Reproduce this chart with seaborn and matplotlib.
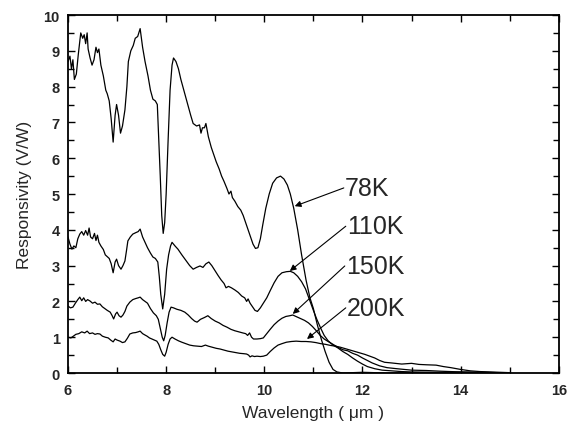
import matplotlib
matplotlib.use("Agg")
import matplotlib.pyplot as plt
import numpy as np
import pandas as pd
import seaborn as sns
from matplotlib.ticker import MultipleLocator

# Responsivity spectra, wavelength in um, responsivity in V/W
wl_78 = [6.00, 6.04, 6.07, 6.10, 6.13, 6.17, 6.21, 6.26, 6.30, 6.33, 6.36, 6.39, 6.41, 6.45,
         6.49, 6.53, 6.57, 6.60, 6.63, 6.67, 6.72, 6.77, 6.80, 6.84, 6.88, 6.92, 6.96, 6.99,
         7.03, 7.07, 7.11, 7.16, 7.20, 7.23, 7.28, 7.33, 7.37, 7.42, 7.47, 7.52, 7.57, 7.63,
         7.68, 7.73, 7.78, 7.82, 7.85, 7.88, 7.91, 7.94, 7.97, 8.00, 8.04, 8.08, 8.12, 8.15,
         8.20, 8.25, 8.30, 8.35, 8.42, 8.50, 8.55, 8.62, 8.68, 8.71, 8.74, 8.78, 8.81, 8.86,
         8.92, 8.97, 9.02, 9.08, 9.13, 9.18, 9.24, 9.28, 9.32, 9.35, 9.40, 9.46, 9.52, 9.57,
         9.62, 9.67, 9.72, 9.77, 9.82, 9.87, 9.92, 9.97, 10.03, 10.10, 10.17, 10.25, 10.33,
         10.40, 10.47, 10.53, 10.60, 10.68, 10.76, 10.85, 10.93, 11.00, 11.08, 11.16, 11.24,
         11.32, 11.40, 11.48, 11.60, 12.00, 12.50, 13.00, 13.50, 14.00, 14.50, 15.00]
r_78 = [8.70, 8.85, 8.50, 8.75, 8.20, 8.35, 8.90, 9.50, 9.35, 9.45, 9.20, 9.50, 9.05, 8.80,
        8.60, 8.75, 9.10, 8.95, 9.05, 8.60, 8.30, 7.90, 7.80, 7.60, 7.10, 6.45, 7.20, 7.50,
        7.20, 6.70, 6.90, 7.35, 8.00, 8.70, 9.00, 9.15, 9.35, 9.40, 9.62, 9.10, 8.70, 8.30,
        7.90, 7.65, 7.60, 7.50, 6.50, 5.50, 4.40, 3.90, 4.20, 5.00, 6.50, 7.90, 8.60, 8.80,
        8.70, 8.50, 8.20, 7.95, 7.60, 7.20, 6.97, 6.90, 6.93, 6.70, 6.85, 6.85, 6.97, 6.60,
        6.30, 6.10, 5.90, 5.70, 5.50, 5.35, 5.15, 5.00, 5.08, 4.90, 4.80, 4.65, 4.55, 4.40,
        4.20, 4.00, 3.80, 3.60, 3.48, 3.50, 3.75, 4.15, 4.60, 5.00, 5.30, 5.45, 5.50,
        5.42, 5.25, 5.00, 4.60, 4.00, 3.30, 2.60, 2.10, 1.80, 1.35, 0.95, 0.60,
        0.30, 0.10, 0.03, 0.00, 0.02, 0.00, 0.01, 0.00, 0.02, 0.00, 0.00]

wl_110 = [6.00, 6.04, 6.08, 6.12, 6.16, 6.20, 6.24, 6.28, 6.32, 6.36, 6.40, 6.43, 6.46, 6.50,
          6.54, 6.57, 6.60, 6.63, 6.67, 6.72, 6.76, 6.80, 6.84, 6.88, 6.92, 6.96, 6.99, 7.03,
          7.08, 7.12, 7.16, 7.19, 7.22, 7.27, 7.32, 7.38, 7.43, 7.47, 7.52, 7.57, 7.62, 7.68,
          7.73, 7.78, 7.83, 7.86, 7.89, 7.93, 7.97, 8.01, 8.05, 8.09, 8.12, 8.18, 8.24, 8.32,
          8.40, 8.48, 8.55, 8.62, 8.69, 8.75, 8.81, 8.87, 8.93, 9.00, 9.06, 9.12, 9.18, 9.22,
          9.27, 9.33, 9.40, 9.47, 9.54, 9.60, 9.64, 9.67, 9.71, 9.76, 9.81, 9.86, 9.92, 9.98,
          10.05, 10.12, 10.20, 10.28, 10.36, 10.45, 10.53, 10.60, 10.68, 10.76, 10.84, 10.92,
          11.00, 11.07, 11.15, 11.22, 11.30, 11.40, 11.50, 11.60, 11.70, 11.80, 11.90, 12.00,
          12.10, 12.25, 12.40, 12.60, 12.80, 13.00, 13.50, 14.00, 14.50, 15.00]
r_110 = [3.80, 3.60, 3.46, 3.55, 3.50, 3.75, 3.88, 3.95, 3.85, 3.98, 3.85, 4.05, 3.80, 3.75,
         3.90, 3.70, 3.85, 3.65, 3.55, 3.45, 3.30, 3.25, 3.20, 3.05, 2.80, 3.10, 3.18, 3.00,
         2.90, 3.00, 3.13, 3.40, 3.69, 3.80, 3.88, 3.92, 3.95, 4.02, 3.80, 3.65, 3.50, 3.35,
         3.24, 3.20, 3.10, 2.70, 2.20, 1.79, 2.20, 2.90, 3.30, 3.55, 3.65, 3.55, 3.46, 3.30,
         3.15, 3.00, 2.90, 2.95, 2.99, 2.95, 3.05, 3.10, 3.00, 2.85, 2.72, 2.60, 2.50, 2.38,
         2.42, 2.38, 2.32, 2.25, 2.15, 2.10, 2.00, 2.07, 1.95, 1.85, 1.75, 1.72, 1.82, 1.95,
         2.10, 2.30, 2.52, 2.70, 2.80, 2.83, 2.84, 2.80, 2.70, 2.55, 2.35, 2.05,
         1.75, 1.50, 1.25, 1.05, 0.90, 0.78, 0.70, 0.60, 0.52, 0.42, 0.33, 0.25,
         0.18, 0.12, 0.08, 0.06, 0.04, 0.03, 0.02, 0.02, 0.01, 0.00]

wl_150 = [6.00, 6.05, 6.10, 6.15, 6.20, 6.24, 6.28, 6.32, 6.36, 6.40, 6.45, 6.50, 6.55, 6.60,
          6.65, 6.70, 6.75, 6.80, 6.86, 6.90, 6.93, 6.97, 7.00, 7.04, 7.08, 7.12, 7.16, 7.20,
          7.26, 7.32, 7.38, 7.43, 7.47, 7.52, 7.57, 7.62, 7.68, 7.74, 7.80, 7.84, 7.88, 7.92,
          7.95, 7.98, 8.02, 8.06, 8.10, 8.15, 8.22, 8.30, 8.38, 8.45, 8.52, 8.58, 8.63, 8.70,
          8.78, 8.85, 8.92, 9.00, 9.08, 9.16, 9.24, 9.32, 9.40, 9.48, 9.56, 9.62, 9.66, 9.70,
          9.74, 9.78, 9.85, 9.92, 9.98, 10.05, 10.12, 10.20, 10.28, 10.36, 10.44, 10.52, 10.58,
          10.66, 10.74, 10.82, 10.90, 10.98, 11.06, 11.14, 11.22, 11.30, 11.40, 11.50, 11.60,
          11.70, 11.80, 11.90, 12.00, 12.10, 12.20, 12.35, 12.50, 12.70, 13.00, 13.30, 13.60,
          14.00, 14.50, 15.00]
r_150 = [1.87, 1.82, 1.84, 1.95, 2.05, 2.12, 2.02, 2.10, 2.00, 2.05, 2.01, 1.95, 1.98, 1.92,
         1.93, 1.85, 1.80, 1.75, 1.70, 1.60, 1.51, 1.65, 1.70, 1.60, 1.56, 1.62, 1.72, 1.87,
         1.98, 2.05, 2.08, 2.10, 2.12, 2.05, 2.00, 1.95, 1.80, 1.68, 1.60, 1.50, 1.25, 1.00,
         0.90, 1.05, 1.40, 1.70, 1.84, 1.82, 1.78, 1.75, 1.70, 1.62, 1.52, 1.45, 1.42, 1.50,
         1.55, 1.60, 1.52, 1.45, 1.40, 1.33, 1.28, 1.22, 1.18, 1.15, 1.12, 1.10, 1.05, 1.12,
         1.00, 0.95, 0.95, 0.96, 0.98, 1.10, 1.22, 1.35, 1.45, 1.53, 1.58, 1.60, 1.62,
         1.57, 1.52, 1.47, 1.40, 1.30, 1.18, 1.05, 0.95, 0.88, 0.80, 0.72, 0.65,
         0.62, 0.55, 0.50, 0.42, 0.35, 0.28, 0.20, 0.15, 0.12, 0.08, 0.07, 0.05,
         0.03, 0.02, 0.00]

wl_200 = [6.00, 6.06, 6.10, 6.16, 6.22, 6.28, 6.34, 6.39, 6.44, 6.50, 6.55, 6.60, 6.65, 6.70,
          6.76, 6.82, 6.87, 6.92, 6.96, 7.00, 7.06, 7.11, 7.16, 7.21, 7.26, 7.32, 7.38, 7.43,
          7.47, 7.52, 7.57, 7.61, 7.66, 7.71, 7.76, 7.81, 7.85, 7.89, 7.93, 7.97, 8.00, 8.04,
          8.08, 8.12, 8.18, 8.25, 8.32, 8.40, 8.48, 8.56, 8.64, 8.72, 8.80, 8.86, 8.94, 9.02,
          9.10, 9.18, 9.26, 9.34, 9.42, 9.50, 9.58, 9.64, 9.68, 9.71, 9.75, 9.80, 9.85, 9.92,
          9.98, 10.05, 10.12, 10.20, 10.28, 10.36, 10.45, 10.55, 10.65, 10.75, 10.85, 10.95,
          11.05, 11.15, 11.25, 11.35, 11.45, 11.55, 11.65, 11.75, 11.85, 11.95, 12.05, 12.15,
          12.25, 12.35, 12.45, 12.60, 12.80, 13.00, 13.15, 13.30, 13.50, 13.65, 13.80, 14.00,
          14.20, 14.40, 14.60, 15.00]
r_200 = [1.00, 0.98, 1.02, 1.08, 1.10, 1.15, 1.12, 1.17, 1.10, 1.12, 1.08, 1.10, 1.09, 1.03,
         1.00, 0.98, 0.92, 0.87, 0.95, 0.92, 0.89, 0.85, 0.87, 0.97, 1.09, 1.12, 1.13, 1.15,
         1.17, 1.10, 1.06, 1.03, 0.98, 0.95, 0.92, 0.89, 0.80, 0.65, 0.52, 0.47, 0.58, 0.80,
         0.95, 1.00, 0.95, 0.90, 0.86, 0.82, 0.78, 0.76, 0.75, 0.74, 0.78, 0.75, 0.72, 0.69,
         0.67, 0.64, 0.61, 0.59, 0.57, 0.55, 0.54, 0.53, 0.50, 0.45, 0.48, 0.46, 0.47, 0.46,
         0.47, 0.50, 0.60, 0.70, 0.78, 0.82, 0.86, 0.88, 0.89, 0.88, 0.88, 0.87,
         0.85, 0.82, 0.80, 0.77, 0.75, 0.72, 0.68, 0.64, 0.60, 0.56, 0.52, 0.47,
         0.42, 0.35, 0.30, 0.28, 0.25, 0.27, 0.24, 0.23, 0.22, 0.18, 0.15, 0.10,
         0.06, 0.04, 0.03, 0.01]

labels = ["78K", "110K", "150K", "200K"]
# label anchor (text left/centre) and arrow head, in data units
label_x = [11.62, 11.66, 11.64, 11.66]
label_y = [5.17, 4.10, 2.99, 1.82]
head_x = [10.62, 10.52, 10.58, 10.87]
head_y = [4.66, 2.85, 1.65, 0.95]

sns.set_style("ticks")
plt.rcParams["font.family"] = ["Liberation Sans", "DejaVu Sans"]
plt.rcParams["xtick.direction"] = "in"
plt.rcParams["ytick.direction"] = "in"

fig, ax = plt.subplots(figsize=(5.69, 4.27), dpi=100)
fig.subplots_adjust(left=0.1195, right=0.982, top=0.9625, bottom=0.1241)

curves = [(wl_78, r_78), (wl_110, r_110), (wl_150, r_150), (wl_200, r_200)]
for (wl, r), name in zip(curves, labels):
    df = pd.DataFrame({"wl": wl, "r": r})
    sns.lineplot(data=df, x="wl", y="r", ax=ax, color="black", linewidth=0.9,
                 estimator=None, sort=False, legend=False)

for name, tx, ty, hx, hy in zip(labels, label_x, label_y, head_x, head_y):
    ax.annotate("", xy=(hx, hy), xytext=(tx, ty),
                arrowprops=dict(arrowstyle="-|>", color="black", lw=0.8,
                                mutation_scale=9, shrinkA=0, shrinkB=0))
    ax.text(tx + 0.02, ty, name, fontsize=18, va="center", ha="left")

ax.set_xlim(6, 16)
ax.set_ylim(0, 10)
ax.xaxis.set_major_locator(MultipleLocator(2))
ax.xaxis.set_minor_locator(MultipleLocator(1))
ax.yaxis.set_major_locator(MultipleLocator(1))
ax.yaxis.set_minor_locator(MultipleLocator(0.5))
ax.tick_params(which="both", top=True, right=True, width=1.0, color="black")
ax.tick_params(which="major", length=5, labelsize=10.5)
ax.tick_params(axis="x", which="major", pad=7)
ax.tick_params(axis="y", which="major", pad=6)
ax.tick_params(which="minor", length=4)
for lab in ax.get_xticklabels() + ax.get_yticklabels():
    lab.set_fontweight("bold")
for sp in ax.spines.values():
    sp.set_linewidth(1.3)
    sp.set_color("black")

ax.set_xlabel("Wavelength ( \u03bcm )", fontsize=12.5, labelpad=6)
ax.set_ylabel("Responsivity (V/W)", fontsize=12.5, labelpad=8)

fig.savefig("out.png", dpi=100)
